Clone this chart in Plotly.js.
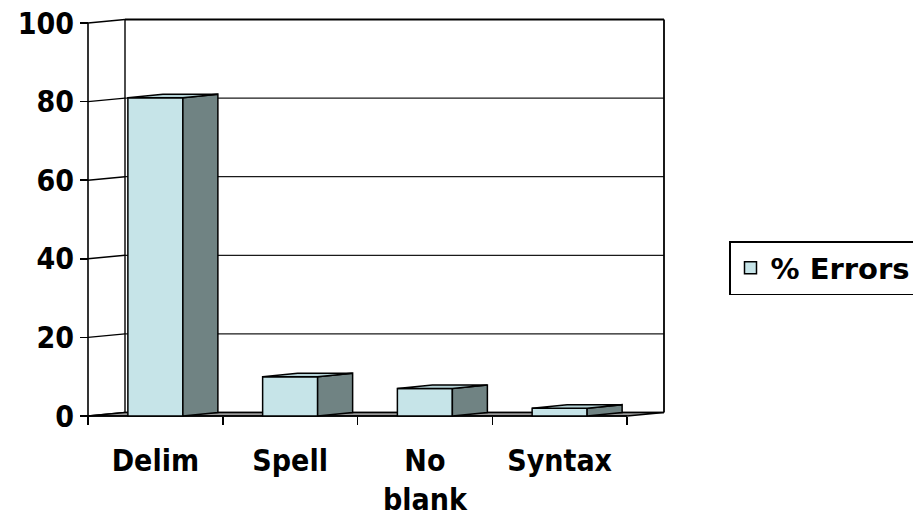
<!DOCTYPE html>
<html>
<head>
<meta charset="utf-8">
<script src="https://cdn.plot.ly/plotly-3.0.1.min.js"></script>
<style>html,body{margin:0;padding:0;background:#fff;}#chart{width:913px;height:521px;}</style>
</head>
<body>
<div id="chart"></div>
<script>
// ---- data ----
const categories = ['Delim', 'Spell', 'No<br>blank', 'Syntax'];
const errorsPct = [81, 10, 7, 2];
const yTickVals = [0, 20, 40, 60, 80, 100];
const yTickText = ['0', '20', '40', '60', '80', '100'];
const seriesName = '% Errors';

// ---- geometry (pixel layout -> data units) ----
const W = 913, H = 521;
const K = 134.75;          // px per category unit
const V = 3.93;            // px per percent
const x0px = 88, y0px = 416; // front-left-bottom corner
const L = 78, R = 672, T = 12, B = 428;
const xr = [(L - x0px) / K - 0.5, (R - x0px) / K - 0.5];
const yr = [(y0px - B) / V, (y0px - T) / V];
const dxW = 37 / K, dyW = 3.5 / V;   // wall depth
const dxB = 35 / K, dyB = 3.5 / V;   // bar depth
const barW = 55 / K;
const nCat = categories.length;
const xs = categories.map((c, i) => i);

const frontCol = 'rgb(198,228,232)';
const sideCol = 'rgb(112,131,131)';
const topCol = 'rgb(180,210,214)';
const lineCol = '#000';

const FONT = {family: '"DejaVu Sans Condensed", "DejaVu Sans", sans-serif', size: 30, color: '#000', weight: 'bold'};

const traces = [];
traces.push({
  type: 'bar', x: xs, y: errorsPct, width: barW, name: seriesName,
  marker: {color: frontCol, line: {color: lineCol, width: 1.5}},
  hoverinfo: 'skip', showlegend: true
});
errorsPct.forEach((v, i) => {
  const xa = i + barW / 2, xl = i - barW / 2;
  traces.push({
    type: 'scatter', mode: 'lines', fill: 'toself', fillcolor: sideCol,
    x: [xa, xa + dxB, xa + dxB, xa, xa], y: [0, dyB, v + dyB, v, 0],
    line: {color: lineCol, width: 1.5}, showlegend: false, hoverinfo: 'skip'
  });
  traces.push({
    type: 'scatter', mode: 'lines', fill: 'toself', fillcolor: topCol,
    x: [xl, xl + dxB, xa + dxB, xa, xl], y: [v, v + dyB, v + dyB, v, v],
    line: {color: lineCol, width: 1.5}, showlegend: false, hoverinfo: 'skip'
  });
});

// ---- walls / floor as shapes ----
const shapes = [];
const xBackL = -0.5 + dxW, xBackR = nCat - 0.5 + dxW;
const yMax = yTickVals[yTickVals.length - 1];
yTickVals.forEach(t => {
  shapes.push({type: 'line', layer: 'below', x0: -0.5, y0: t, x1: xBackL, y1: t + dyW, line: {color: '#000', width: 1.4}});
  shapes.push({type: 'line', layer: 'below', x0: xBackL, y0: t + dyW, x1: xBackR, y1: t + dyW,
               line: {color: t === yMax ? '#000' : '#1a1a1a', width: t === yMax ? 1.8 : 1.3}});
});
shapes.push({type: 'line', layer: 'below', x0: xBackL, y0: dyW, x1: xBackL, y1: yMax + dyW, line: {color: '#000', width: 1.4}});
shapes.push({type: 'line', layer: 'below', x0: xBackR, y0: dyW, x1: xBackR, y1: yMax + dyW, line: {color: '#000', width: 1.8}});
shapes.push({type: 'path', layer: 'below',
  path: `M${-0.5},0 L${nCat - 0.5},0 L${xBackR},${dyW} L${xBackL},${dyW} Z`,
  fillcolor: '#9a9a9a', line: {color: '#000', width: 1.5}});
shapes.push({type: 'line', layer: 'below', x0: -0.5, y0: 0, x1: -0.5, y1: yMax, line: {color: '#000', width: 1.6}});
shapes.push({type: 'line', layer: 'below', x0: -0.5, y0: 0, x1: nCat - 0.5, y1: 0, line: {color: '#000', width: 1.6}});

const boundaries = [];
for (let i = 0; i <= nCat; i++) boundaries.push(i - 0.5);

const layout = {
  width: W, height: H,
  paper_bgcolor: '#fff', plot_bgcolor: 'rgba(0,0,0,0)',
  margin: {l: L, r: W - R, t: T, b: H - B, pad: 0, autoexpand: false},
  showlegend: true,
  font: FONT,
  xaxis: {
    range: xr, anchor: 'free', position: (B - y0px) / (B - T),
    showgrid: false, zeroline: false, showline: false,
    tickmode: 'array', tickvals: xs, ticktext: categories, ticks: '',
    tickfont: FONT, ticklabelstandoff: 24, fixedrange: true,
    minor: {tickmode: 'array', tickvals: boundaries, ticks: 'outside', ticklen: 8, tickwidth: 1.5, tickcolor: '#000', showgrid: false}
  },
  yaxis: {
    range: yr, anchor: 'free', position: (x0px - L) / (R - L),
    showgrid: false, zeroline: false, showline: false,
    tickmode: 'array', tickvals: yTickVals, ticktext: yTickText,
    ticks: 'outside', ticklen: 8, tickwidth: 1.5, tickcolor: '#000',
    tickfont: FONT, fixedrange: true
  },
  legend: {
    x: (729 - L) / (R - L), y: (B - 241) / (B - T), xanchor: 'left', yanchor: 'top',
    bgcolor: '#fff', bordercolor: '#000', borderwidth: 1.5,
    font: {family: '"DejaVu Sans", sans-serif', size: 29, color: '#000', weight: 'bold'}
  },
  shapes: shapes,
  bargap: 0
};

Plotly.newPlot('chart', traces, layout, {displayModeBar: false, staticPlot: true});
</script>
</body>
</html>
